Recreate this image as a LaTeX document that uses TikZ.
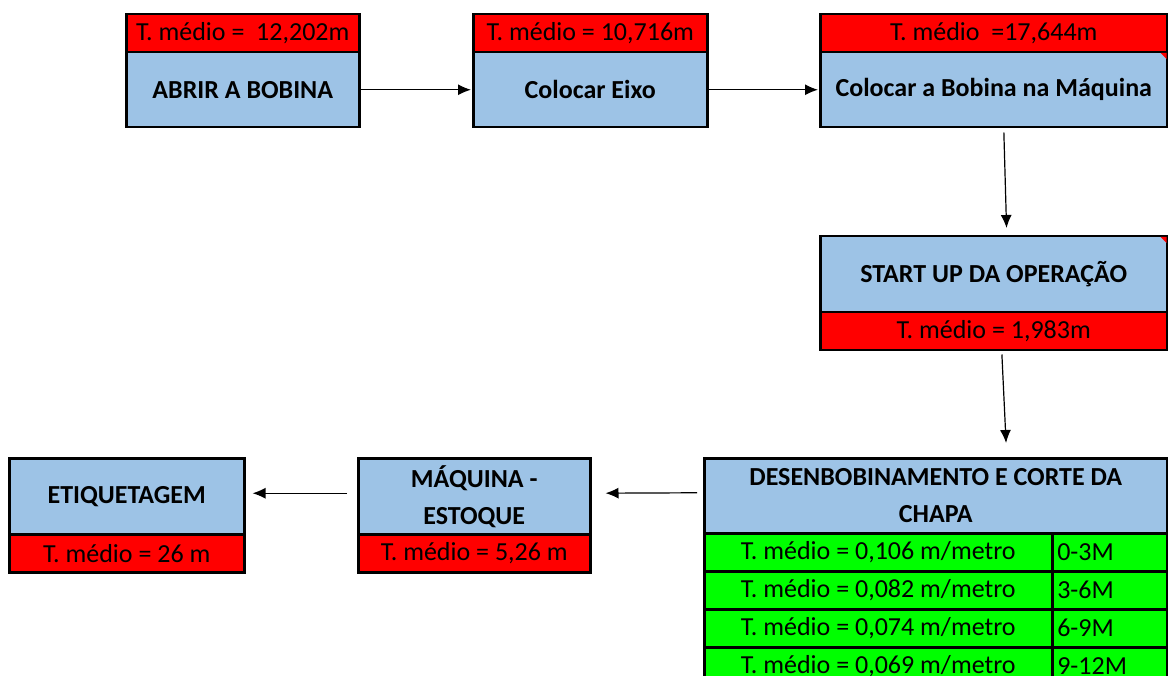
\documentclass[tikz,border=0pt]{standalone}
\usepackage{fontspec}
\setmainfont{Carlito}
\usetikzlibrary{arrows.meta}
\definecolor{azul}{RGB}{157,195,230}
\definecolor{verde}{RGB}{0,255,0}
\definecolor{verm}{RGB}{255,0,0}

\begin{document}
\begin{tikzpicture}[x=1pt, y=-1pt,
	cel/.style={draw, line width=2.5pt, anchor=north west, inner sep=0pt, align=center, font=\fontsize{26}{37}\selectfont},
	etapa/.style={cel, fill=azul, minimum height=75pt, font=\bfseries\fontsize{26}{37}\selectfont},
	tempo/.style={cel, fill=verm, minimum height=38pt},
	faixa/.style={cel, fill=verde, minimum height=38pt},
	seta/.style={-{Latex[length=13pt,width=11pt]}, line width=1.2pt}]
	\useasboundingbox (0,0) rectangle (1168,676);
	\clip (0,0) rectangle (1168,676);
	% linha de cima
	\node[tempo, minimum width=233pt] (h1) at (125,13) {T. médio =\ \ 12,202m};
	\node[etapa, minimum width=233pt] (a1) at (125,51) {ABRIR A BOBINA};
	\node[tempo, minimum width=234pt] (h2) at (472,13) {T. médio = 10,716m};
	\node[etapa, minimum width=234pt] (a2) at (472,51) {Colocar Eixo};
	\node[tempo, minimum width=347pt] (h3) at (819,13) {T. médio\ \ =17,644m};
	\node[etapa, minimum width=347pt] (a3) at (819,51) {Colocar a Bobina na Máquina};
	% start up
	\node[etapa, minimum width=347pt, minimum height=76pt] (a4) at (819,235) {START UP DA OPERAÇÃO};
	\node[tempo, minimum width=347pt] (h4) at (819,311) {T. médio = 1,983m};
	% desenbobinamento
	\node[etapa, minimum width=463pt] (a5) at (703,457) {DESENBOBINAMENTO E CORTE DA\\CHAPA};
	\node[faixa, minimum width=348pt] (t1) at (703,532) {T. médio = 0,106 m/metro};
	\node[faixa, minimum width=115pt, text width=105pt, align=left] (f1) at (1051,532) {0-3M};
	\node[faixa, minimum width=348pt] (t2) at (703,570) {T. médio = 0,082 m/metro};
	\node[faixa, minimum width=115pt, text width=105pt, align=left] (f2) at (1051,570) {3-6M};
	\node[faixa, minimum width=348pt] (t3) at (703,608) {T. médio = 0,074 m/metro};
	\node[faixa, minimum width=115pt, text width=105pt, align=left] (f3) at (1051,608) {6-9M};
	\node[faixa, minimum width=348pt] (t4) at (703,646) {T. médio = 0,069 m/metro};
	\node[faixa, minimum width=115pt, text width=105pt, align=left] (f4) at (1051,646) {9-12M};
	% linha de baixo
	\node[etapa, minimum width=232pt, minimum height=76pt] (a6) at (357,457) {MÁQUINA -\\ESTOQUE};
	\node[tempo, minimum width=232pt] (h6) at (357,533) {T. médio = 5,26 m};
	\node[etapa, minimum width=235pt, minimum height=76pt] (a7) at (8,457) {ETIQUETAGEM};
	\node[tempo, minimum width=235pt] (h7) at (8,533) {T. médio = 26 m};
	% marcas de comentario
	\fill[verm] (a3.north east) ++(-8,2) -- ++(6,0) -- ++(0,6) -- cycle;
	\fill[verm] (a4.north east) ++(-8,2) -- ++(6,0) -- ++(0,6) -- cycle;
	% setas
	\draw[seta, shorten >=1pt] (a1) -- (a2);
	\draw[seta, shorten >=1pt] (a2) -- (a3);
	\draw[seta, shorten <=4pt, shorten >=7pt] ([xshift=10pt]a3.south) -- ([xshift=13pt]a4.north);
	\draw[seta, shorten <=3pt, shorten >=14pt] ([xshift=8pt]h4.south) -- ([xshift=71pt]a5.north);
	\draw[seta, shorten <=6pt, shorten >=14pt] ([yshift=3pt]a5.west) -- ([yshift=3pt]a6.east);
	\draw[seta, shorten <=10pt, shorten >=7pt] ([yshift=3pt]a6.west) -- ([yshift=3pt]a7.east);
\end{tikzpicture}
\end{document}
